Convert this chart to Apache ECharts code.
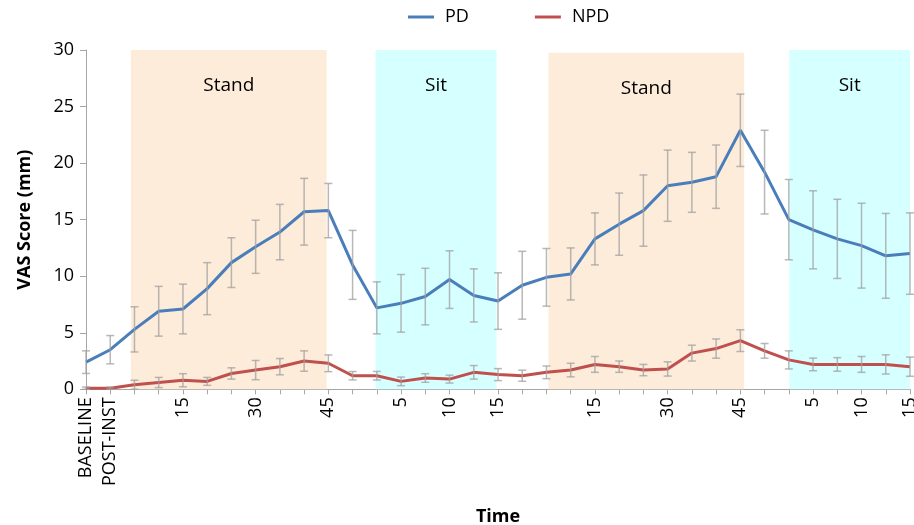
<html lang="en">
<head>
    <meta charset="UTF-8">
    <title>VAS Score</title>
    <script src="https://cdn.jsdelivr.net/npm/echarts@6/dist/echarts.min.js"></script>
</head>
<style>
    body { margin: 0; background: #fff; }
    #container { width: 914px; height: 525px; }
</style>
<body>
<div id="container"></div>
<script>
    // x categories (only some carry a label)
    var timeLabels = ['BASELINE', 'POST-INST',
        '', '', '15', '', '', '30', '', '', '45',
        '',
        '', '5', '', '10', '', '15',
        '',
        '', '', '15', '', '', '30', '', '', '45',
        '',
        '', '5', '', '10', '', '15'];

    var pdMean = [2.4, 3.5, 5.3, 6.9, 7.1, 8.9, 11.2, 12.6, 13.9, 15.7, 15.8,
        11.0, 7.2, 7.6, 8.2, 9.7, 8.3, 7.8,
        9.2, 9.9, 10.2, 13.3, 14.6, 15.8, 18.0, 18.3, 18.8, 22.9,
        19.2, 15.0, 14.1, 13.3, 12.7, 11.8, 12.0];
    var pdErr = [1.0, 1.25, 2.0, 2.2, 2.2, 2.3, 2.2, 2.35, 2.45, 2.95, 2.4,
        3.05, 2.3, 2.55, 2.5, 2.55, 2.35, 2.5,
        3.0, 2.55, 2.3, 2.3, 2.75, 3.15, 3.15, 2.65, 2.8, 3.2,
        3.7, 3.55, 3.45, 3.5, 3.75, 3.75, 3.6];

    var npdMean = [0.1, 0.1, 0.4, 0.6, 0.8, 0.7, 1.4, 1.7, 2.0, 2.5, 2.3,
        1.2, 1.2, 0.7, 1.0, 0.9, 1.5, 1.3,
        1.2, 1.5, 1.7, 2.2, 2.0, 1.7, 1.8, 3.2, 3.6, 4.3,
        3.4, 2.6, 2.2, 2.2, 2.2, 2.2, 2.0];
    var npdErr = [0.1, 0.1, 0.4, 0.45, 0.58, 0.35, 0.5, 0.85, 0.72, 0.9, 0.74,
        0.37, 0.38, 0.38, 0.38, 0.35, 0.6, 0.53,
        0.49, 0.56, 0.6, 0.7, 0.5, 0.5, 0.63, 0.7, 0.85, 0.96,
        0.65, 0.8, 0.56, 0.6, 0.7, 0.85, 0.85];

    // shaded phases: [name, from index, to index, colour]
    var phases = [
        ['Stand', 1.85, 9.93, '#fdecda'],
        ['Sit', 11.95, 16.94, '#d6ffff'],
        ['Stand', 19.08, 27.16, '#fdecda'],
        ['Sit', 29.02, 34.1, '#d6ffff']
    ];

    var font = 'Open Sans';

    function errData(mean, err) {
        var d = [];
        for (var i = 0; i < mean.length; i++) {
            d.push([i, mean[i] - err[i], mean[i] + err[i]]);
        }
        return d;
    }

    function renderErr(params, api) {
        var lo = api.coord([api.value(0), api.value(1)]);
        var hi = api.coord([api.value(0), api.value(2)]);
        var w = 4;
        var style = {stroke: 'rgba(160,160,160,0.75)', lineWidth: 1.5};
        return {
            type: 'group',
            children: [
                {type: 'line', shape: {x1: lo[0], y1: lo[1], x2: hi[0], y2: hi[1]}, style: style},
                {type: 'line', shape: {x1: lo[0] - w, y1: lo[1], x2: lo[0] + w, y2: lo[1]}, style: style},
                {type: 'line', shape: {x1: hi[0] - w, y1: hi[1], x2: hi[0] + w, y2: hi[1]}, style: style}
            ]
        };
    }

    var chart = echarts.init(document.getElementById('container'));

    var option = {
        animation: false,
        textStyle: {fontFamily: font},
        legend: {
            top: 3,
            left: 403,
            icon: 'rect',
            itemWidth: 26,
            itemHeight: 3,
            itemGap: 66,
            textStyle: {fontSize: 18, color: '#000', fontFamily: font, padding: [0, 0, 0, 6]},
            data: ['PD', 'NPD']
        },
        grid: {left: 86, right: 4, top: 50, bottom: 135.7, outerBoundsMode: 'none'},
        xAxis: [
            {
                type: 'category',
                data: timeLabels,
                boundaryGap: false,
                name: 'Time',
                nameLocation: 'middle',
                nameGap: 119,
                nameTextStyle: {fontSize: 18, fontWeight: 'bold', color: '#000'},
                axisLine: {lineStyle: {color: '#a6a6a6'}},
                axisTick: {interval: 0, length: 5, lineStyle: {color: '#a6a6a6'}},
                axisLabel: {interval: 0, rotate: 90, fontSize: 18, color: '#000', margin: 8}
            },
            {type: 'value', min: 0, max: 34, show: false}
        ],
        yAxis: {
            type: 'value',
            min: 0,
            max: 30,
            interval: 5,
            name: 'VAS Score (mm)',
            nameLocation: 'middle',
            nameGap: 52,
            nameTextStyle: {fontSize: 18, fontWeight: 'bold', color: '#000'},
            splitLine: {show: false},
            axisLine: {show: true, lineStyle: {color: '#a6a6a6'}},
            axisTick: {show: true, length: 6, lineStyle: {color: '#a6a6a6'}},
            axisLabel: {fontSize: 18, color: '#000', margin: 12}
        },
        series: [
            {
                type: 'line',
                xAxisIndex: 1,
                data: [],
                silent: true,
                markArea: {
                    silent: true,
                    data: phases.map(function (p) {
                        return [
                            {xAxis: p[1], yAxis: p[0] === 'Stand' && p[1] > 15 ? 29.75 : 30,
                                name: p[0], itemStyle: {color: p[3]}},
                            {xAxis: p[2], yAxis: 0}
                        ];
                    }),
                    label: {
                        position: 'insideTop',
                        distance: 26,
                        fontSize: 19,
                        color: '#000',
                        fontFamily: font
                    }
                }
            },
            {
                name: 'PD',
                type: 'line',
                data: pdMean,
                symbol: 'none',
                color: '#4a7ebb',
                lineStyle: {width: 3, color: '#4a7ebb'},
                z: 3
            },
            {
                name: 'NPD',
                type: 'line',
                data: npdMean,
                symbol: 'none',
                color: '#c0504d',
                lineStyle: {width: 3, color: '#c0504d'},
                z: 3
            },
            {
                type: 'custom',
                renderItem: renderErr,
                data: errData(pdMean, pdErr),
                encode: {x: 0, y: [1, 2]},
                z: 4
            },
            {
                type: 'custom',
                renderItem: renderErr,
                data: errData(npdMean, npdErr),
                encode: {x: 0, y: [1, 2]},
                z: 4
            }
        ]
    };

    chart.setOption(option);
</script>
</body>
</html>
